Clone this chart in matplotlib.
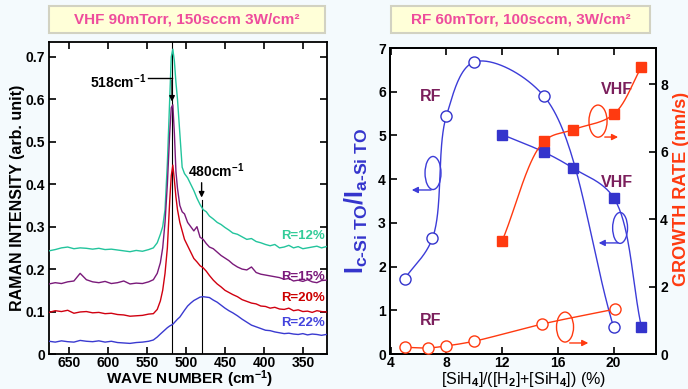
import numpy as np
import matplotlib
matplotlib.use('Agg')
import matplotlib.pyplot as plt
from matplotlib.patches import Rectangle, Ellipse

plt.rcParams['font.family'] = ['Liberation Sans', 'DejaVu Sans']
plt.rcParams['font.weight'] = 'bold'
plt.rcParams['mathtext.fontset'] = 'custom'
plt.rcParams['mathtext.rm'] = 'Liberation Sans'
plt.rcParams['mathtext.bf'] = 'Liberation Sans:bold'
plt.rcParams['mathtext.it'] = 'Liberation Sans:italic'

# ---------------- Left panel data: Raman spectra ----------------
wavenumber = [676, 668, 660, 652, 644, 636, 628, 620, 612, 604, 596, 588, 580, 572, 564, 556, 548,
              542, 537, 533, 530, 527, 524, 521, 519, 517, 515, 513, 511, 508, 505, 502,
              498, 494, 490, 486, 482, 478, 474, 470,
              465, 460, 455, 450, 445, 440,
              434, 428, 422, 416, 410, 404, 398, 392, 386, 380, 374, 368, 362, 356, 350, 344, 338, 332, 326, 320]
r12 = [0.243, 0.246, 0.250, 0.252, 0.248, 0.250, 0.249, 0.247, 0.249, 0.246, 0.247, 0.245, 0.243, 0.241, 0.244, 0.242, 0.246,
       0.250, 0.262, 0.282, 0.300, 0.340, 0.450, 0.600, 0.700, 0.718, 0.690, 0.640, 0.600, 0.520, 0.440, 0.425,
       0.415, 0.400, 0.385, 0.367, 0.352, 0.340, 0.335, 0.325,
       0.318, 0.310, 0.305, 0.298, 0.292, 0.285,
       0.282, 0.276, 0.270, 0.272, 0.265, 0.262, 0.258, 0.255, 0.258, 0.250, 0.252, 0.256, 0.250, 0.253, 0.248, 0.250, 0.252, 0.254, 0.250, 0.253]
r15 = [0.165, 0.168, 0.166, 0.170, 0.172, 0.190, 0.175, 0.170, 0.168, 0.171, 0.166, 0.168, 0.172, 0.165, 0.167, 0.166, 0.170,
       0.175, 0.190, 0.215, 0.250, 0.310, 0.400, 0.520, 0.580, 0.587, 0.520, 0.430, 0.390, 0.350, 0.335, 0.330,
       0.310, 0.300, 0.290, 0.300, 0.275, 0.270, 0.260, 0.252,
       0.248, 0.240, 0.232, 0.226, 0.220, 0.212,
       0.205, 0.200, 0.198, 0.205, 0.192, 0.188, 0.186, 0.184, 0.182, 0.180, 0.176, 0.178, 0.172, 0.174, 0.171, 0.175, 0.170, 0.168, 0.173, 0.174]
r20 = [0.098, 0.102, 0.100, 0.103, 0.096, 0.099, 0.100, 0.097, 0.098, 0.095, 0.096, 0.093, 0.092, 0.089, 0.090, 0.091, 0.094,
       0.095, 0.105, 0.125, 0.150, 0.190, 0.250, 0.360, 0.420, 0.445, 0.410, 0.370, 0.340, 0.310, 0.290, 0.270,
       0.255, 0.240, 0.225, 0.217, 0.208, 0.203, 0.195, 0.185,
       0.174, 0.165, 0.158, 0.150, 0.145, 0.140,
       0.135, 0.128, 0.124, 0.120, 0.118, 0.113, 0.112, 0.108, 0.110, 0.106, 0.105, 0.108, 0.102, 0.104, 0.100, 0.101, 0.098, 0.102, 0.100, 0.099]
r22 = [0.030, 0.028, 0.031, 0.029, 0.028, 0.032, 0.030, 0.029, 0.031, 0.028, 0.030, 0.027, 0.026, 0.025, 0.027, 0.028, 0.030,
       0.033, 0.040, 0.047, 0.052, 0.057, 0.062, 0.066, 0.068, 0.070, 0.074, 0.078, 0.082, 0.087, 0.095, 0.103,
       0.113, 0.120, 0.126, 0.130, 0.134, 0.135, 0.134, 0.133,
       0.127, 0.122, 0.115, 0.108, 0.102, 0.097,
       0.090, 0.082, 0.075, 0.068, 0.064, 0.060, 0.056, 0.055, 0.052, 0.050, 0.048, 0.049, 0.047, 0.046, 0.048, 0.045, 0.047, 0.046, 0.044, 0.046]
spec_labels = ['R=12%', 'R=15%', 'R=20%', 'R=22%']
spec_label_y = [0.278, 0.181, 0.132, 0.073]
spec_colors = ['#22C49C', '#7A1A7A', '#D00010', '#3A3AD0']
label_colors = ['#33CC99', '#7A1A7A', '#CC0000', '#4444DD']

# ---------------- Right panel data ----------------
rf_x = [5, 7, 8, 10, 15, 20]
rf_ratio = [1.72, 2.65, 5.45, 6.68, 5.9, 0.62]
vhf_x = [12, 15, 17.1, 20, 22]
vhf_ratio = [5.02, 4.62, 4.25, 3.58, 0.62]
vhf_rate = [3.35, 6.3, 6.65, 7.1, 8.5]
rf_rate_x = [5, 6.7, 8, 10, 14.9, 20.1]
rf_rate = [0.2, 0.18, 0.24, 0.38, 0.89, 1.33]

BLUE = '#3434CC'
BLUE_LINE = '#3C3CD8'
RED = '#FF3A10'
PURP = '#7B1F5C'
PINK = '#EE4C9C'

W, H = 688, 389
fig = plt.figure(figsize=(W / 100, H / 100), dpi=100)
fig.patch.set_facecolor('#F4FAFD')


def px_axes(l, r, t, b):
    return fig.add_axes([l / W, (H - b) / H, (r - l) / W, (b - t) / H])


def style(ax):
    for s in ax.spines.values():
        s.set_linewidth(1.3)
    ax.tick_params(direction='in', length=5, width=1.2, labelsize=10, pad=3)
    ax.tick_params(axis='x', pad=1.5)


def catmull(P, n=40, alpha=0.5):
    P = np.asarray(P, float)
    ext = np.vstack([2 * P[0] - P[1], P, 2 * P[-1] - P[-2]])
    out = []
    for i in range(len(P) - 1):
        p0, p1, p2, p3 = ext[i], ext[i + 1], ext[i + 2], ext[i + 3]
        t0 = 0.0
        t1 = t0 + np.linalg.norm(p1 - p0) ** alpha
        t2 = t1 + np.linalg.norm(p2 - p1) ** alpha
        t3 = t2 + np.linalg.norm(p3 - p2) ** alpha
        t = np.linspace(t1, t2, n)[:, None]
        A1 = (t1 - t) / (t1 - t0) * p0 + (t - t0) / (t1 - t0) * p1
        A2 = (t2 - t) / (t2 - t1) * p1 + (t - t1) / (t2 - t1) * p2
        A3 = (t3 - t) / (t3 - t2) * p2 + (t - t2) / (t3 - t2) * p3
        B1 = (t2 - t) / (t2 - t0) * A1 + (t - t0) / (t2 - t0) * A2
        B2 = (t3 - t) / (t3 - t1) * A2 + (t - t1) / (t3 - t1) * A3
        C = (t2 - t) / (t2 - t1) * B1 + (t - t1) / (t2 - t1) * B2
        out.append(C if i == 0 else C[1:])
    return np.vstack(out)


def smooth_line(ax, xs, ys, **kw):
    pts = ax.transData.transform(np.column_stack([xs, ys]))
    curve = ax.transData.inverted().transform(catmull(pts))
    ax.plot(curve[:, 0], curve[:, 1], **kw)


# ---------------- Left panel ----------------
ax1 = px_axes(49, 327, 42, 354)
ax1.set_facecolor('white')
style(ax1)
ax1.tick_params(top=True, right=True)
ax1.set_xlim(676, 319)
ax1.set_ylim(0, 0.735)
ax1.set_xticks([650, 600, 550, 500, 450, 400, 350])
ax1.set_yticks([0, 0.1, 0.2, 0.3, 0.4, 0.5, 0.6, 0.7])
ax1.set_yticklabels(['0', '0.1', '0.2', '0.3', '0.4', '0.5', '0.6', '0.7'])

for ys, c in zip([r12, r15, r20, r22], spec_colors):
    ax1.plot(wavenumber, ys, color=c, lw=1.0, zorder=3)
for lab, ly, c in zip(spec_labels, spec_label_y, label_colors):
    ax1.text(322, ly, lab, color=c, fontsize=9.5, ha='right', va='center', zorder=5)

ax1.axvline(518, color='black', lw=0.8, zorder=2)
ax1.plot([480, 480], [0, 0.363], color='black', lw=0.8, zorder=2)
ax1.plot([549, 518], [0.65, 0.65], color='black', lw=1.0, zorder=4)
ax1.annotate('', xy=(518, 0.588), xytext=(518, 0.652),
             arrowprops=dict(arrowstyle='-|>', color='black', lw=1.0, mutation_scale=8), zorder=4)
ax1.annotate('', xy=(480, 0.362), xytext=(480, 0.41),
             arrowprops=dict(arrowstyle='-|>', color='black', lw=1.0, mutation_scale=8), zorder=4)
ax1.text(551, 0.642, r'518cm$^{\mathbf{-1}}$', fontsize=10, ha='right', va='center')
ax1.text(497, 0.432, r'480cm$^{\mathbf{-1}}$', fontsize=10, ha='left', va='center')

fig.text(18 / W, (H - 198) / H, 'RAMAN INTENSITY (arb. unit)', rotation=90,
         ha='center', va='center', fontsize=11.5)
fig.text(190 / W, (H - 384.5) / H, r'WAVE NUMBER (cm$^{\mathbf{-1}}$)',
         ha='center', va='baseline', fontsize=11)

# ---------------- Right panel ----------------
ax2 = px_axes(390, 656, 48, 354)
ax2.set_facecolor('white')
style(ax2)
ax2.tick_params(top=True)
ax2.set_xlim(3.95, 23.05)
ax2.set_ylim(0, 7)
ax2.set_xticks([4, 8, 12, 16, 20])
ax2.set_yticks([0, 1, 2, 3, 4, 5, 6, 7])
ax2r = ax2.twinx()
style(ax2r)
ax2r.set_ylim(0, 9.07)
ax2r.set_yticks([0, 2, 4, 6, 8])

smooth_line(ax2, rf_x, rf_ratio, color=BLUE_LINE, lw=1.0, zorder=2)
smooth_line(ax2, vhf_x, vhf_ratio, color=BLUE_LINE, lw=1.0, zorder=2)
smooth_line(ax2r, vhf_x, vhf_rate, color=RED, lw=1.0, zorder=2)
smooth_line(ax2r, rf_rate_x, rf_rate, color=RED, lw=1.0, zorder=2)

ax2.plot(rf_x, rf_ratio, 'o', ms=8, mfc='white', mec=BLUE, mew=1.0, zorder=4)
ax2.plot(vhf_x, vhf_ratio, 's', ms=7.5, mfc=BLUE, mec=BLUE, zorder=4)
ax2r.plot(vhf_x, vhf_rate, 's', ms=7.5, mfc=RED, mec=RED, zorder=4)
ax2r.plot(rf_rate_x, rf_rate, 'o', ms=8, mfc='white', mec=RED, mew=1.0, zorder=4)

for (tx, ty, s) in [(0.154, 0.84, 'RF'), (0.853, 0.863, 'VHF'), (0.853, 0.562, 'VHF'), (0.154, 0.108, 'RF')]:
    ax2.text(tx, ty, s, transform=ax2.transAxes, color=PURP, fontsize=11.5, ha='center', va='center')

# axis indicator ellipses with arrows (axes fraction)
indicators = [((0.1617, 0.5915), 0.060, 0.108, (0.165, 0.536), (0.0714, 0.536), BLUE_LINE),
              ((0.782, 0.761), 0.068, 0.105, (0.797, 0.709), (0.868, 0.709), RED),
              ((0.865, 0.412), 0.056, 0.101, (0.868, 0.363), (0.774, 0.363), BLUE_LINE),
              ((0.658, 0.088), 0.064, 0.098, (0.665, 0.036), (0.756, 0.036), RED)]
for (cen, ew, eh, a0, a1, c) in indicators:
    ax2r.add_patch(Ellipse(cen, ew, eh, transform=ax2.transAxes, fill=False, ec=c, lw=1.0, zorder=5))
    ax2r.annotate('', xy=a1, xytext=a0, xycoords='axes fraction', textcoords='axes fraction',
                  arrowprops=dict(arrowstyle='-|>', color=c, lw=1.0, mutation_scale=9), zorder=5)

fig.text(356 / W, (H - 201) / H,
         r'$\mathbf{I}_{\mathbf{c\text{-}Si\ TO}}/\mathbf{I}_{\mathbf{a\text{-}Si\ TO}}$',
         rotation=90, ha='center', va='center', fontsize=18, color=BLUE)
fig.text(681 / W, (H - 189) / H, 'GROWTH RATE (nm/s)', rotation=90,
         ha='center', va='center', fontsize=13, color=RED)
fig.text(524 / W, (H - 384) / H, r'[SiH$_4$]/([H$_2$]+[SiH$_4$]) (%)',
         ha='center', va='baseline', fontsize=11.5, fontweight='normal')

# ---------------- Title boxes ----------------
for (l, r, title) in [(49, 325, 'VHF 90mTorr, 150sccm 3W/cm²'), (391, 650, 'RF 60mTorr, 100sccm, 3W/cm²')]:
    fig.patches.append(Rectangle((l / W, (H - 33) / H), (r - l) / W, 27 / H, transform=fig.transFigure,
                                 fc='#FFFFD8', ec='#D2D2C2', lw=1.5, zorder=0))
    fig.text((l + r) / 2 / W, (H - 19.5) / H, title, ha='center', va='center', fontsize=11, color=PINK)

fig.savefig('out.png', dpi=100, facecolor=fig.get_facecolor())
